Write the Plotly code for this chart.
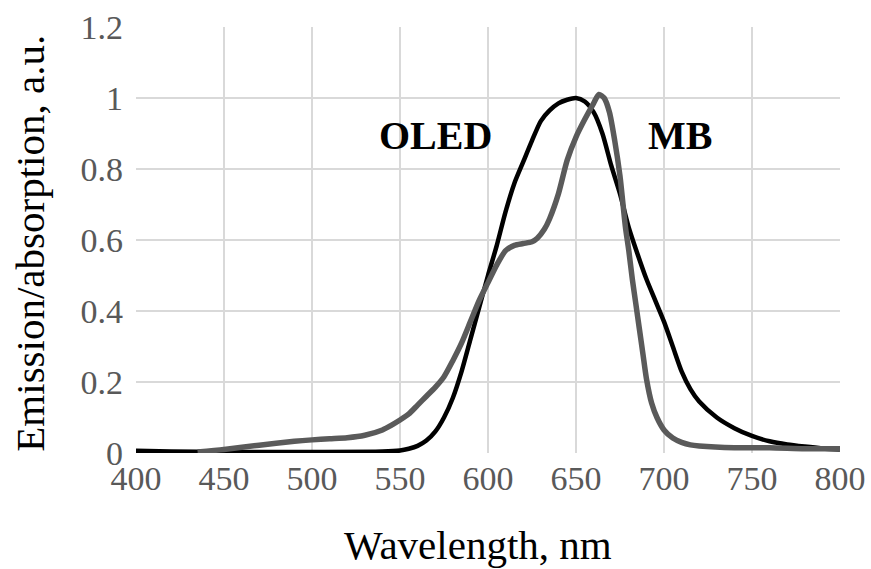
import plotly.graph_objects as go

# OLED emission (black)
oled_wl = [400, 420, 450, 500, 540, 550, 555, 560, 565, 570, 575, 580, 585, 590, 595,
           600, 605, 610, 615, 620, 625, 630, 635, 640, 645, 650, 655, 660, 665, 670,
           675, 680, 685, 690, 695, 700, 705, 710, 715, 720, 730, 740, 750, 760, 770,
           780, 790, 800]
oled_val = [0.006, 0.004, 0.003, 0.003, 0.004, 0.007, 0.012, 0.02, 0.035, 0.06, 0.1,
            0.155, 0.23, 0.32, 0.41, 0.5, 0.585, 0.68, 0.76, 0.82, 0.88, 0.935, 0.965,
            0.985, 0.995, 1.0, 0.99, 0.96, 0.9, 0.81, 0.73, 0.635, 0.56, 0.49, 0.43,
            0.37, 0.3, 0.23, 0.18, 0.145, 0.1, 0.07, 0.048, 0.033, 0.024, 0.018, 0.013,
            0.01]

# MB absorption (gray)
mb_wl = [435, 450, 470, 490, 500, 510, 520, 530, 540, 545, 550, 555, 560, 565, 570,
         575, 580, 585, 590, 595, 600, 605, 610, 615, 620, 625, 628, 632, 635, 640,
         645, 650, 655, 660, 663, 666, 669, 672, 675, 678, 680, 682, 684, 686, 688,
         690, 693, 696, 700, 705, 710, 715, 720, 740, 760, 780, 800]
mb_val = [0.003, 0.01, 0.022, 0.033, 0.037, 0.04, 0.043, 0.05, 0.065, 0.078, 0.093,
          0.11, 0.135, 0.16, 0.185, 0.215, 0.26, 0.31, 0.37, 0.43, 0.48, 0.53, 0.57,
          0.585, 0.59, 0.595, 0.605, 0.63, 0.66, 0.73, 0.825, 0.89, 0.94, 0.985, 1.01,
          1.0, 0.96, 0.88, 0.78, 0.64, 0.57, 0.49, 0.42, 0.35, 0.28, 0.21, 0.14, 0.1,
          0.065, 0.042, 0.03, 0.023, 0.02, 0.015, 0.015, 0.012, 0.012]

x_ticks = [400, 450, 500, 550, 600, 650, 700, 750, 800]
y_ticks = [0, 0.2, 0.4, 0.6, 0.8, 1.0, 1.2]
y_tick_labels = ["0", "0.2", "0.4", "0.6", "0.8", "1", "1.2"]

fig = go.Figure()
fig.add_trace(go.Scatter(x=oled_wl, y=oled_val, mode="lines", name="OLED",
                         line=dict(color="#000000", width=4.5, shape="spline",
                                   smoothing=0.7)))
fig.add_trace(go.Scatter(x=mb_wl, y=mb_val, mode="lines", name="MB",
                         line=dict(color="#5a5a5a", width=5.5, shape="spline",
                                   smoothing=0.7)))

tick_font = dict(family="Liberation Serif, serif", size=34, color="#595959")
title_font = dict(family="Liberation Serif, Times New Roman, serif", size=41, color="#000000")
label_font = dict(family="Liberation Serif, Times New Roman, serif", size=40, color="#000000")

fig.update_layout(
    width=871, height=569,
    margin=dict(l=136, r=31, t=27, b=116, autoexpand=False),
    paper_bgcolor="white", plot_bgcolor="white",
    showlegend=False,
    xaxis=dict(range=[400, 800], tickvals=x_ticks, ticktext=[str(v) for v in x_ticks],
               showgrid=True, gridcolor="#d9d9d9", gridwidth=2, zeroline=False,
               showline=False, ticks="", tickfont=tick_font, ticklabelstandoff=2,
               automargin=False),
    yaxis=dict(range=[0, 1.2], tickvals=y_ticks, ticktext=y_tick_labels,
               showgrid=True, gridcolor="#d9d9d9", gridwidth=2, zeroline=False,
               showline=False, ticks="", tickfont=tick_font, ticklabelstandoff=12,
               automargin=False),
    annotations=[
        dict(text="Wavelength, nm", xref="paper", yref="paper", x=0.486, y=-0.216,
             xanchor="center", yanchor="middle", showarrow=False, font=title_font),
        dict(text="Emission/absorption, a.u.", xref="paper", yref="paper", x=-0.151,
             y=0.493, xanchor="center", yanchor="middle", textangle=-90,
             showarrow=False, font=title_font),
        dict(text="<b>OLED</b>", x=570, y=0.895, xref="x", yref="y", showarrow=False,
             xanchor="center", yanchor="middle", font=label_font),
        dict(text="<b>MB</b>", x=709, y=0.895, xref="x", yref="y", showarrow=False,
             xanchor="center", yanchor="middle", font=label_font),
    ],
)

fig.write_html("out.html", config={"displayModeBar": False},
               post_script="document.body.style.margin='0';document.body.style.overflow='hidden';")
